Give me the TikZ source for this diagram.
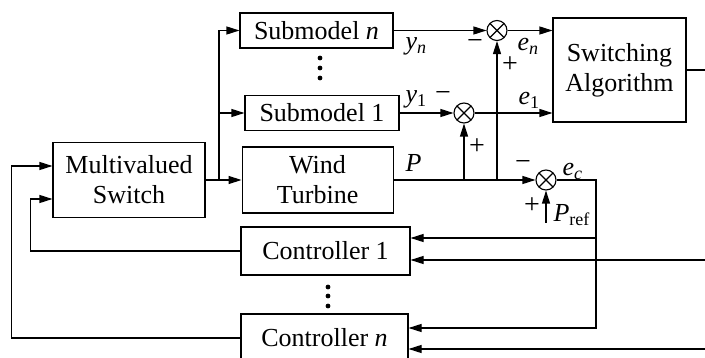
\documentclass[tikz,border=0pt]{standalone}
\usepackage{fontspec}
\setmainfont{Liberation Serif}
\usetikzlibrary{positioning, arrows.meta}

\newcommand{\sublbl}[2]{#1\raisebox{-0.12em}{\fontsize{18}{18}\selectfont #2}}

\begin{document}
\begin{tikzpicture}[
  x=1pt, y=-1pt, line width=1.1pt,
  font=\fontsize{26}{30}\selectfont,
  blk/.style={rectangle, draw, align=center, inner sep=0pt},
  sum/.style={circle, draw, minimum size=20pt, inner sep=0pt,
    path picture={\draw (path picture bounding box.north west) -- (path picture bounding box.south east)
      (path picture bounding box.north east) -- (path picture bounding box.south west);}},
  arr/.style={-{Triangle[length=13pt,width=8pt]}},
  sgn/.style={font=\fontsize{28}{28}\selectfont, inner sep=0pt},
  lbl/.style={inner sep=0pt, anchor=base west},
]
\useasboundingbox (0,0) rectangle (705,358);

% Blocks
\node[blk, minimum width=152pt, minimum height=75pt] (switch) at (129,180) {Multivalued\\Switch};
\node[blk, minimum width=151pt, minimum height=66pt, right=36pt of switch] (turbine) {Wind\\Turbine};
\node[blk, minimum width=154pt, minimum height=35pt] (sub1) at (322,113) {Submodel 1};
\node[blk, minimum width=153pt, minimum height=35pt] (subn) at (316.5,30.5) {Submodel \textit{n}};
\node[blk, minimum width=133pt, minimum height=104pt] (alg) at (619.5,70) {Switching\\Algorithm};
\node[blk, minimum width=169pt, minimum height=48pt] (ctrl1) at (325.5,251) {Controller 1};
\node[blk, minimum width=167pt, minimum height=48pt] (ctrln) at (324.5,338) {Controller \textit{n}};

% Summing junctions
\node[sum] (sumn) at (497,30.5) {};
\node[sum] (sum1) at (464,113) {};
\node[sum] (sumc) at (546,180) {};

% Free ends
\coordinate (split) at (219,180);
\coordinate (pref) at (546,223);
\coordinate (ecorner) at (596,180);
\coordinate (algout) at (705,70);
\coordinate (in1) at (705,260);
\coordinate (inn) at (705,349);
\coordinate (c1a) at ([yshift=13pt]ctrl1.east);

% Dots
\foreach \yy in {58,68,78} \fill (320,\yy) circle (2.4pt);
\foreach \yy in {287,296,306} \fill (328,\yy) circle (2.4pt);

% Arrows
\draw[arr] (switch.east) -- (turbine.west);
\draw[arr] (split) |- (subn.west);
\draw[arr] (split |- sub1.west) -- (sub1.west);
\draw[arr] (subn.east) -- (sumn.west);
\draw[arr] (sumn.east) -- (sumn.east -| alg.west);
\draw[arr] (sub1.east) -- (sum1.west);
\draw[arr] (sum1.east) -- (sum1.east -| alg.west);
\draw[arr] (turbine.east) -- (sumc.west);
\draw[arr] (turbine.east -| sum1) -- (sum1.south);
\draw[arr] (turbine.east -| sumn) -- (sumn.south);
\draw[arr] (pref) -- (sumc.south);
\draw (alg.east) -- (algout);
\draw[arr] (sumc.east) -- (ecorner) |- ([yshift=10pt]ctrln.east);
\draw[arr] (ecorner |- c1a) -- (c1a);
\draw[arr] (in1) -- (in1 -| ctrl1.east);
\draw[arr] (inn) -- (inn -| ctrln.east);
\draw[arr] (ctrl1.west) -- ++(-210,0) |- ([yshift=-19pt]switch.west);
\draw[arr] (ctrln.west) -- ++(-229,0) |- ([yshift=14pt]switch.west);

% Signal labels and signs
\node[lbl] (yn) at (405,50) {\sublbl{\textit{y}}{\textit{n}}};
\node[sgn] (mn) at (475,45) {−};
\node[lbl] (en) at (517,51) {\sublbl{\textit{e}}{\textit{n}}};
\node[sgn] (pn) at (510,65) {+};
\node[lbl] (y1) at (405,103) {\sublbl{\textit{y}}{1}};
\node[sgn] (m1) at (443,97) {−};
\node[lbl] (e1) at (518,105) {\sublbl{\textit{e}}{1}};
\node[sgn] (p1) at (477,147) {+};
\node[lbl] (plbl) at (405,172) {\textit{P}};
\node[sgn] (mc) at (523,166) {−};
\node[lbl] (ec) at (562,176) {\sublbl{\textit{e}}{\textit{c}}};
\node[sgn] (pc) at (532,206) {+};
\node[lbl] (preflbl) at (553,222) {\sublbl{\textit{P}}{ref}};

\end{tikzpicture}
\end{document}
